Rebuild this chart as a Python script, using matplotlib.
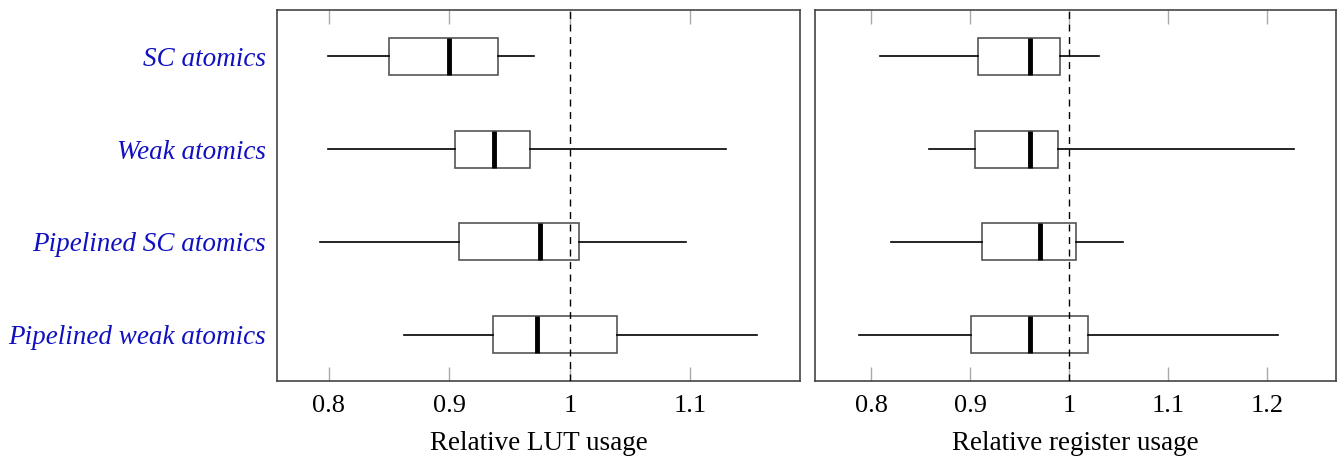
import matplotlib
matplotlib.use("Agg")
import matplotlib.pyplot as plt

# categories, listed top to bottom
labels = ["SC atomics", "Weak atomics", "Pipelined SC atomics", "Pipelined weak atomics"]

# relative LUT usage
lut_lo = [0.799, 0.799, 0.793, 0.862]
lut_q1 = [0.850, 0.905, 0.908, 0.936]
lut_med = [0.900, 0.937, 0.975, 0.973]
lut_q3 = [0.940, 0.967, 1.008, 1.039]
lut_hi = [0.970, 1.130, 1.096, 1.155]

# relative register usage
reg_lo = [0.809, 0.858, 0.820, 0.787]
reg_q1 = [0.908, 0.905, 0.912, 0.901]
reg_med = [0.960, 0.960, 0.970, 0.960]
reg_q3 = [0.991, 0.989, 1.007, 1.019]
reg_hi = [1.030, 1.227, 1.054, 1.211]

lut_ticks = [0.8, 0.9, 1.0, 1.1]
reg_ticks = [0.8, 0.9, 1.0, 1.1, 1.2]

plt.rcParams["font.family"] = ["Liberation Serif", "DejaVu Serif"]


def stats(lo, q1, med, q3, hi):
    return [dict(whislo=a, q1=b, med=c, q3=d, whishi=e, fliers=[])
            for a, b, c, d, e in zip(lo, q1, med, q3, hi)]


def draw(ax, st, ticks, xlim, xlabel):
    pos = list(range(len(st), 0, -1))
    ax.bxp(st, positions=pos, orientation="horizontal", widths=0.4,
           showcaps=False, showfliers=False, patch_artist=True,
           boxprops=dict(facecolor="white", edgecolor="#555555", linewidth=1.2),
           medianprops=dict(color="black", linewidth=3.5, solid_capstyle="butt"),
           whiskerprops=dict(color="black", linewidth=1.2))
    ax.axvline(1.0, color="black", linestyle=(0, (5, 4)), linewidth=1.0, zorder=5)
    ax.set_xlim(*xlim)
    ax.set_ylim(0.5, 4.5)
    ax.set_xticks(ticks)
    ax.set_xticklabels(["1" if t == 1.0 else f"{t:g}" for t in ticks])
    ax.tick_params(axis="x", direction="in", top=True, length=10, width=1,
                   color="#aaaaaa", labelsize=19, pad=10)
    ax.tick_params(axis="y", length=0)
    ax.set_xlabel(xlabel, fontsize=19.5, labelpad=10)
    for s in ax.spines.values():
        s.set_color("#444444")
        s.set_linewidth(1.2)


fig = plt.figure(figsize=(13.41, 4.58), dpi=100)
W, H = 1341, 458
ax1 = fig.add_axes([277 / W, 1 - 381 / H, (800 - 277) / W, (381 - 10) / H])
ax2 = fig.add_axes([815 / W, 1 - 381 / H, (1336 - 815) / W, (381 - 10) / H])

draw(ax1, stats(lut_lo, lut_q1, lut_med, lut_q3, lut_hi), lut_ticks,
     (0.757, 1.191), "Relative LUT usage")
draw(ax2, stats(reg_lo, reg_q1, reg_med, reg_q3, reg_hi), reg_ticks,
     (0.743, 1.2695), "Relative register usage")

ax1.set_yticks(range(len(labels), 0, -1))
ax1.set_yticklabels(labels, fontsize=19.5, style="italic", color="#1010c0")
ax1.tick_params(axis="y", pad=8)
ax2.set_yticks([])

fig.savefig("out.png", dpi=100)
